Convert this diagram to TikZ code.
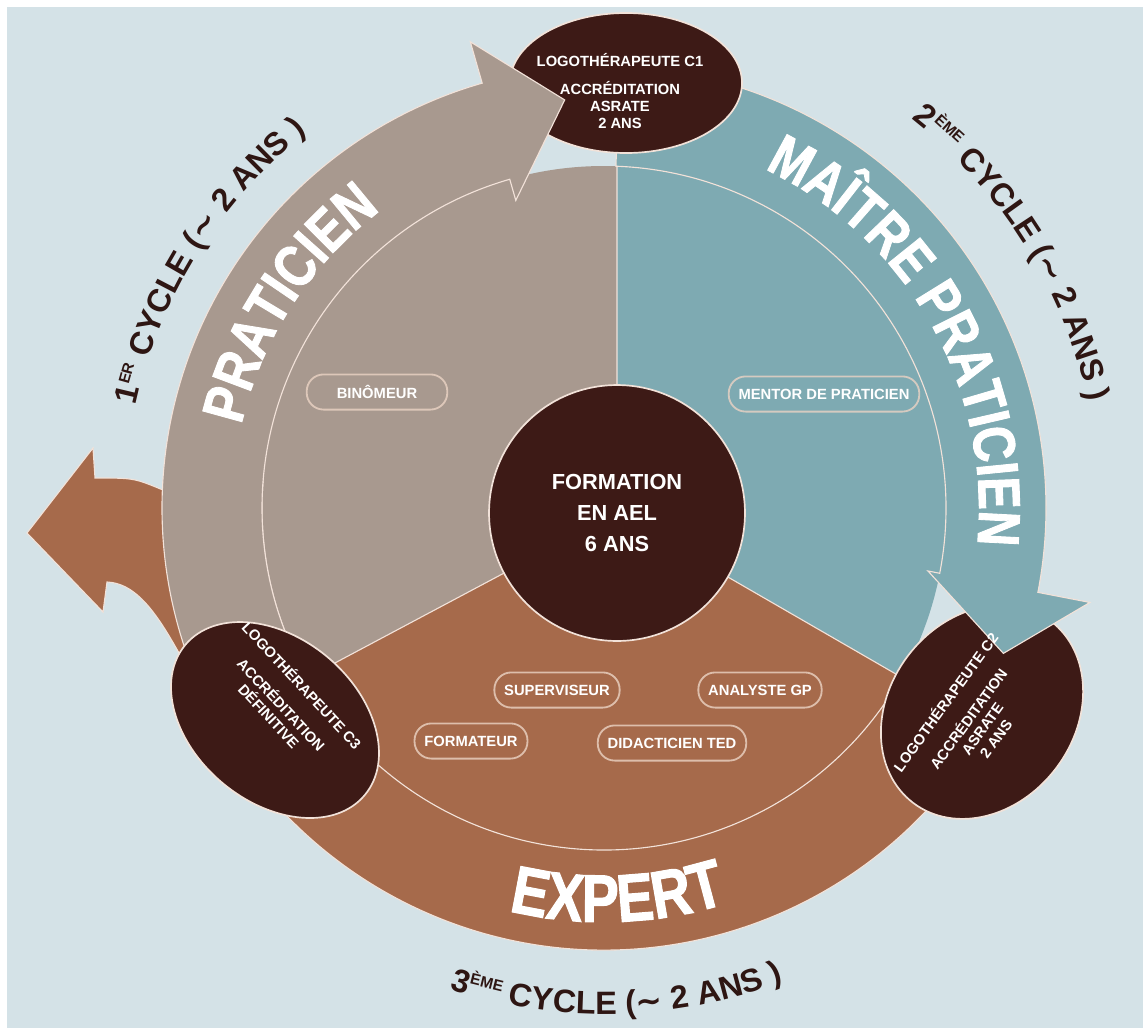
\documentclass[tikz,border=0pt]{standalone}
\usepackage{fontspec}
\setmainfont{Liberation Sans}
\newfontfamily\heavyfont{Liberation Sans}[FakeStretch=0.82,FakeBold=1.5]
\newfontfamily\tildefont{DejaVu Sans}
\usetikzlibrary{decorations.text}
\definecolor{bgblue}{HTML}{D4E2E7}
\definecolor{taupe}{HTML}{A8998F}
\definecolor{tealband}{HTML}{7EAAB2}
\definecolor{rust}{HTML}{A66A4B}
\definecolor{darkbrown}{HTML}{3D1A16}
\definecolor{inkbrown}{HTML}{2E1613}
\definecolor{rimline}{HTML}{F2E2D9}
\definecolor{pillline}{HTML}{EBD3C4}
\newcommand{\bandfont}{\heavyfont\bfseries\fontsize{42}{42}\selectfont}
\newcommand{\expertfont}{\heavyfont\bfseries\fontsize{48}{48}\selectfont}
\newcommand{\cyclefont}{\bfseries\fontsize{23}{23}\selectfont}
\newcommand{\supfont}{\fontsize{11}{11}\selectfont}
\begin{document}
\begin{tikzpicture}[x=0.025cm, y=0.025cm,
    rim/.style={draw=rimline, line width=0.8pt},
    badge/.style={fill=darkbrown, draw=rimline, line width=1.2pt},
    badgetext/.style={text=white, font=\bfseries\fontsize{10.5}{12}\selectfont, align=center},
    pill/.style={draw=pillline, draw opacity=0.8, line width=1.3pt, rounded corners=12pt,
      minimum height=25pt, inner xsep=7pt, text=white, font=\bfseries\fontsize{10.5}{12}\selectfont},
    bandlabel/.style={decorate, decoration={text along path, text align=center,
      text color=white, text={#1}}},
    cyclelabel/.style={decorate, decoration={text along path, text align=center,
      text color=inkbrown, text={#1}}}]
  \pgfmathsetmacro{\rIn}{342}
  \pgfmathsetmacro{\rOut}{442}
  % background
  \fill[white] (0,0) rectangle (1143,-1028);
  \fill[bgblue] (7,-7) rectangle (1143,-1028);
  \useasboundingbox (0,0) rectangle (1143,-1028);
  % inner disc, three sectors
  \begin{scope}
    \clip (604,-508) circle[radius=\rIn];
    \begin{scope}[shift={(617,-513)}]
      \fill[taupe] (0,0) -- (90:700) -- (150:800) -- (208:700) -- cycle;
      \fill[tealband] (0,0) -- (90:700) -- (30:800) -- (330:700) -- cycle;
      \fill[rust] (0,0) -- (208:700) -- (270:800) -- (330:700) -- cycle;
      \draw[rim] (0,0) -- (90:400) (0,0) -- (208:400) (0,0) -- (330:400);
    \end{scope}
  \end{scope}
  % outer ring arrows
  \begin{scope}[shift={(604,-508)}]
    \filldraw[fill=rust, rim] (-25:\rIn) -- (-25:\rOut) arc[start angle=-25, end angle=-145, radius=\rOut]
      .. controls (-420,-170) and (-445,-76) .. (-497,-74) -- (-501,-104) -- (-577,-25) -- (-511,60)
      -- (-509,30) .. controls (-470,30) .. (-441,18) -- (175:\rIn)
      arc[start angle=175, end angle=335, radius=\rIn] -- cycle;
  \end{scope}
  \filldraw[badge, rotate around={53:(982,-712)}] (982,-712) ellipse[x radius=114, y radius=93];
  \begin{scope}[shift={(604,-508)}]
    \filldraw[fill=tealband, rim] (88:\rIn) -- (88:\rOut) arc[start angle=88, end angle=-11, radius=\rOut]
      -- (-11:495) -- (-20:425) -- (-11:330) -- (-11:\rIn)
      arc[start angle=-11, end angle=88, radius=\rIn] -- cycle;
  \end{scope}
  \filldraw[badge] (626,-83) ellipse[x radius=116, y radius=70];
  \begin{scope}[shift={(604,-508)}]
    \filldraw[fill=taupe, rim] (215:\rIn) -- (215:\rOut) arc[start angle=215, end angle=106, radius=\rOut]
      -- (106:485) -- (95.5:410) -- (106:320) -- (106:\rIn)
      arc[start angle=106, end angle=215, radius=\rIn] -- cycle;
  \end{scope}
  \filldraw[badge, rotate around={-40:(275,-720)}] (275,-720) ellipse[x radius=117, y radius=82];
  % centre
  \node[badge, circle, minimum size=182pt, text=white, align=center,
    font=\bfseries\fontsize{15.5}{22}\selectfont] (formation) at (617,-513) {FORMATION\\EN AEL\\6 ANS};
  % badges text
  \node[badgetext] (cycleone) at (620,-91) {LOGOTHÉRAPEUTE C1\\[8pt]ACCRÉDITATION\\ASRATE\\2 ANS};
  \node[badgetext, rotate=54] (cycletwo) at (970,-720) {LOGOTHÉRAPEUTE C2\\[8pt]ACCRÉDITATION\\ASRATE\\2 ANS};
  \node[badgetext, rotate=-47] (cyclethree) at (286,-700) {LOGOTHÉRAPEUTE C3\\[8pt]ACCRÉDITATION\\DÉFINITIVE};
  % roles
  \node[pill, minimum width=100pt] (binomeur) at (377,-392) {BINÔMEUR};
  \node[pill] (mentor) at (824,-394) {MENTOR DE PRATICIEN};
  \node[pill] (superviseur) at (557,-690) {SUPERVISEUR};
  \node[pill] (analyste) at (760,-690) {ANALYSTE GP};
  \node[pill] (formateur) at (471,-741) {FORMATEUR};
  \node[pill] (didacticien) at (672,-743) {DIDACTICIEN TED};
  % curved labels
  \begin{scope}[shift={(604,-508)}]
    \path[bandlabel={|\bandfont|PRATICIEN}] (177:372) arc[start angle=177, end angle=117, radius=372];
    \path[bandlabel={|\bandfont|MAÎTRE PRATICIEN}] (75:375) arc[start angle=75, end angle=-16, radius=375];
    \path[bandlabel={|\expertfont|EXPERT}] (245:414) arc[start angle=245, end angle=299, radius=414];
    \path[cyclelabel={|\cyclefont|1{\raisebox{8.5pt}{\supfont ER}} CYCLE ({\tildefont\bfseries ∼} 2 ANS )}]
      (173:479) arc[start angle=173, end angle=123, radius=479];
    \path[cyclelabel={|\cyclefont|2{\raisebox{8.5pt}{\supfont ÈME}} CYCLE ({\tildefont\bfseries ∼} 2 ANS )}]
      (57:496) arc[start angle=57, end angle=7, radius=496];
    \path[cyclelabel={|\cyclefont|3{\raisebox{8.5pt}{\supfont ÈME}} CYCLE ({\tildefont\bfseries ∼} 2 ANS )}]
      (246:506) arc[start angle=246, end angle=297, radius=506];
  \end{scope}
\end{tikzpicture}
\end{document}
